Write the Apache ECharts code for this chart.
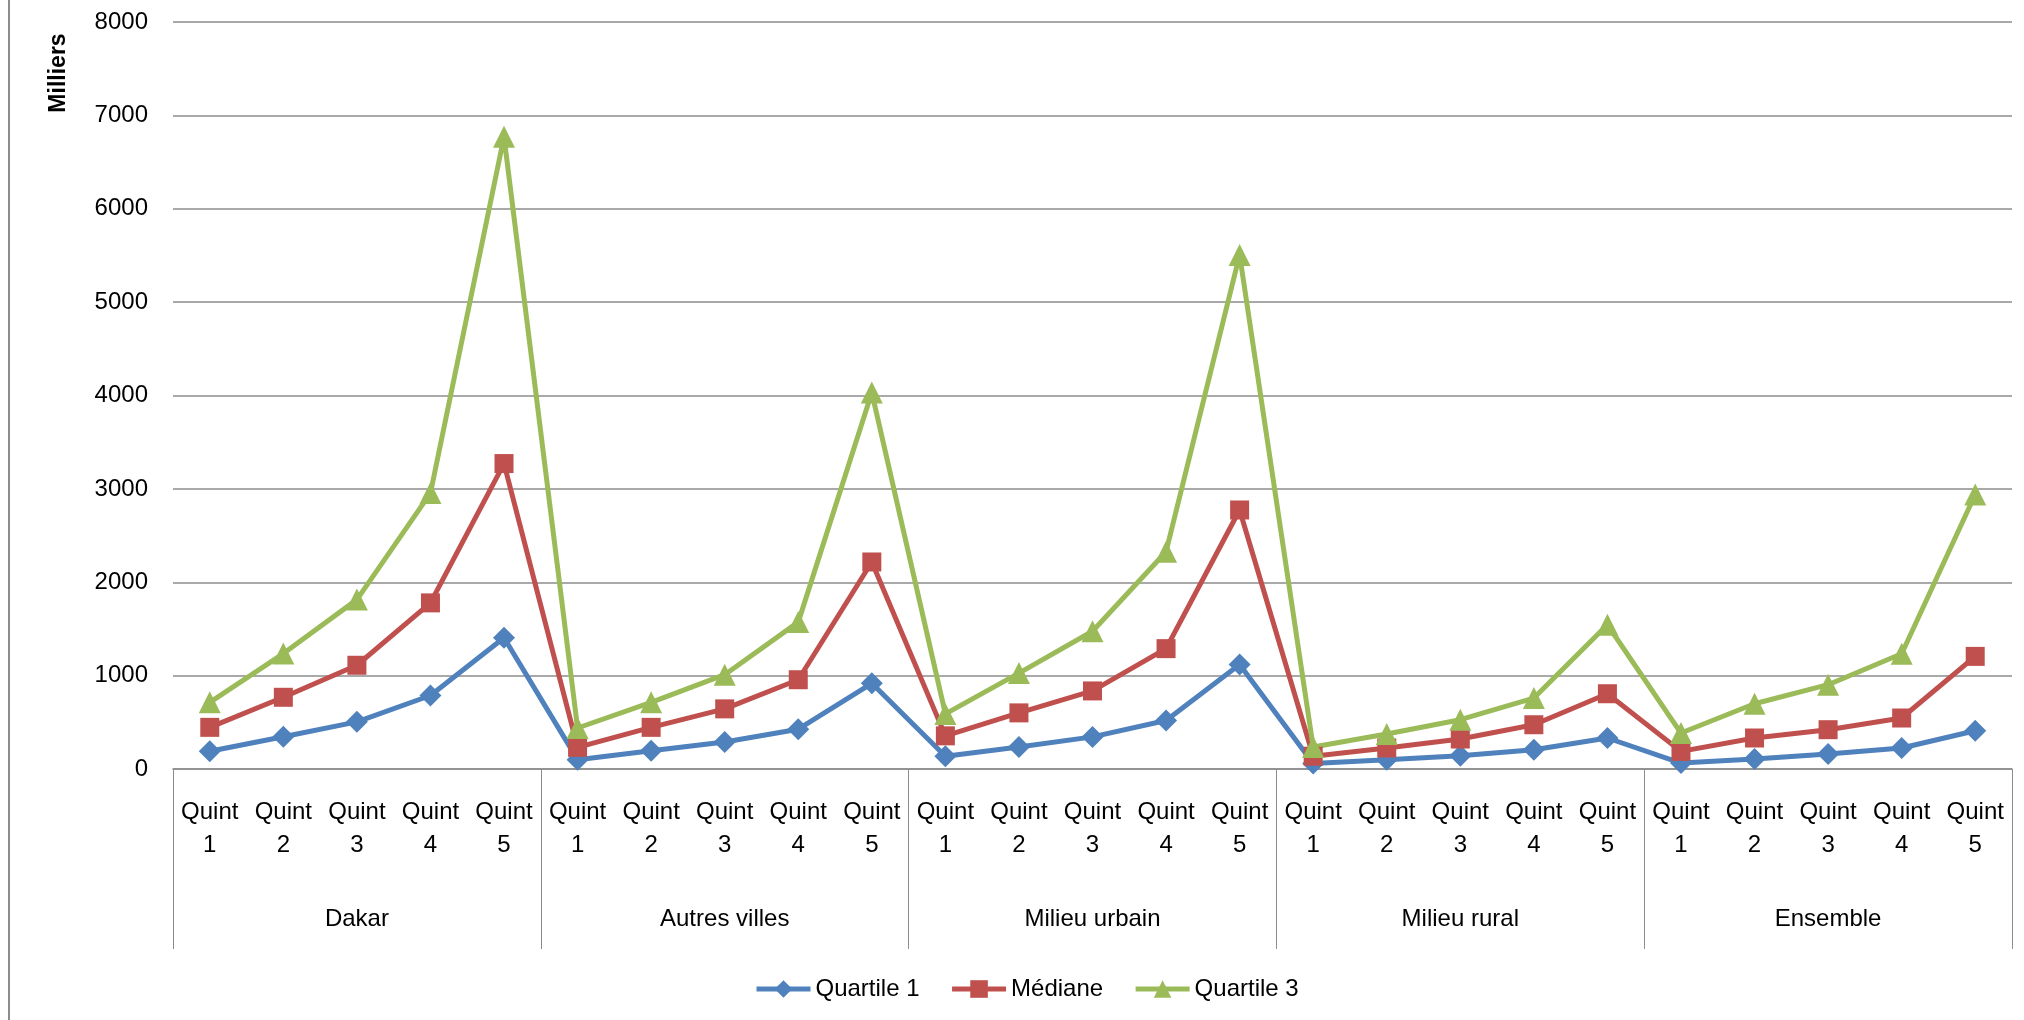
<!DOCTYPE html>
<html>
<head>
<meta charset="utf-8">
<title>Quartiles par quintile</title>
<script src="https://cdn.jsdelivr.net/npm/echarts@6/dist/echarts.min.js"></script>
<style>
  html, body { margin: 0; padding: 0; background: #fff; }
  #chart { width: 2024px; height: 1020px; }
</style>
</head>
<body>
<div id="chart"></div>
<script>
// categories
const groupes = ['Dakar', 'Autres villes', 'Milieu urbain', 'Milieu rural', 'Ensemble'];
const quintiles = ['Quint\n1', 'Quint\n2', 'Quint\n3', 'Quint\n4', 'Quint\n5'];
// y ticks
const yMin = 0;
const yMax = 8000;
const yStep = 1000;
const yTitre = 'Milliers';

// series values (milliers), read group by group
const quartile1 = [190, 345, 505, 787, 1405,
                   100, 196, 289, 426, 918,
                   137, 235, 344, 519, 1120,
                   60, 100, 143, 207, 332,
                   64, 107, 161, 225, 410];
const mediane = [446, 768, 1111, 1779, 3271,
                 232, 446, 644, 956, 2217,
                 355, 601, 836, 1289, 2774,
                 137, 225, 321, 474, 806,
                 189, 332, 421, 546, 1206];
const quartile3 = [714, 1236, 1814, 2955, 6770,
                   439, 714, 1010, 1573, 4031,
                   590, 1027, 1475, 2327, 5505,
                   235, 375, 528, 760, 1545,
                   385, 699, 903, 1235, 2940];

// one label per point: Quint 1..5 repeated for every group
let categories = [];
groupes.forEach(function () {
    categories = categories.concat(quintiles);
});

const font = 'Liberation Sans, Arial, sans-serif';
const gris = '#8c8c8c';

let myChart = echarts.init(document.getElementById('chart'));

function serie(name, data, color, symbol, size) {
    return {
        name: name,
        type: 'line',
        data: data,
        xAxisIndex: 0,
        symbol: symbol,
        symbolSize: size,
        showAllSymbol: true,
        lineStyle: { color: color, width: 5 },
        itemStyle: { color: color },
        emphasis: { disabled: true }
    };
}

let option = {
    animation: false,
    backgroundColor: '#fff',
    grid: { left: 173, right: 12, top: 22, bottom: 251, containLabel: false },
    legend: {
        left: 749,
        top: 972,
        itemWidth: 54,
        itemHeight: 22,
        itemGap: 30,
        lineStyle: { width: 5 },
        textStyle: { fontFamily: font, fontSize: 24, color: '#000' },
        data: ['Quartile 1', 'Médiane', 'Quartile 3']
    },
    xAxis: [
        {
            type: 'category',
            position: 'bottom',
            data: categories,
            boundaryGap: true,
            axisLine: { show: true, lineStyle: { color: gris, width: 1.5 } },
            axisTick: { show: false },
            axisLabel: {
                interval: 0,
                margin: 27,
                fontFamily: font,
                fontSize: 24,
                lineHeight: 33,
                color: '#000'
            },
            splitLine: { show: false }
        },
        {
            type: 'category',
            position: 'bottom',
            data: groupes,
            boundaryGap: true,
            axisLine: { show: false },
            axisTick: { show: true, length: 180, lineStyle: { color: gris, width: 1 } },
            axisLabel: {
                interval: 0,
                margin: 138,
                fontFamily: font,
                fontSize: 24,
                color: '#000'
            },
            splitLine: { show: false }
        }
    ],
    yAxis: {
        type: 'value',
        min: yMin,
        max: yMax,
        interval: yStep,
        axisLine: { show: false },
        axisTick: { show: false },
        axisLabel: {
            margin: 25,
            fontFamily: font,
            fontSize: 24,
            color: '#000',
            formatter: function (v) { return String(v); }
        },
        splitLine: { show: true, lineStyle: { color: gris, width: 1.5 } }
    },
    graphic: [
        {
            type: 'text',
            x: 59,
            y: 73,
            rotation: Math.PI / 2,
            style: {
                text: yTitre,
                fontFamily: font,
                fontSize: 23,
                fontWeight: 'bold',
                fill: '#000',
                align: 'center',
                verticalAlign: 'middle'
            }
        },
        {
            type: 'line',
            shape: { x1: 9, y1: 0, x2: 9, y2: 1020 },
            style: { stroke: gris, lineWidth: 2 }
        }
    ],
    series: [
        serie('Quartile 1', quartile1, '#4F81BD', 'diamond', 22),
        serie('Médiane', mediane, '#C0504D', 'rect', 19),
        serie('Quartile 3', quartile3, '#9BBB59', 'triangle', 22)
    ]
};
myChart.setOption(option);
</script>
</body>
</html>
